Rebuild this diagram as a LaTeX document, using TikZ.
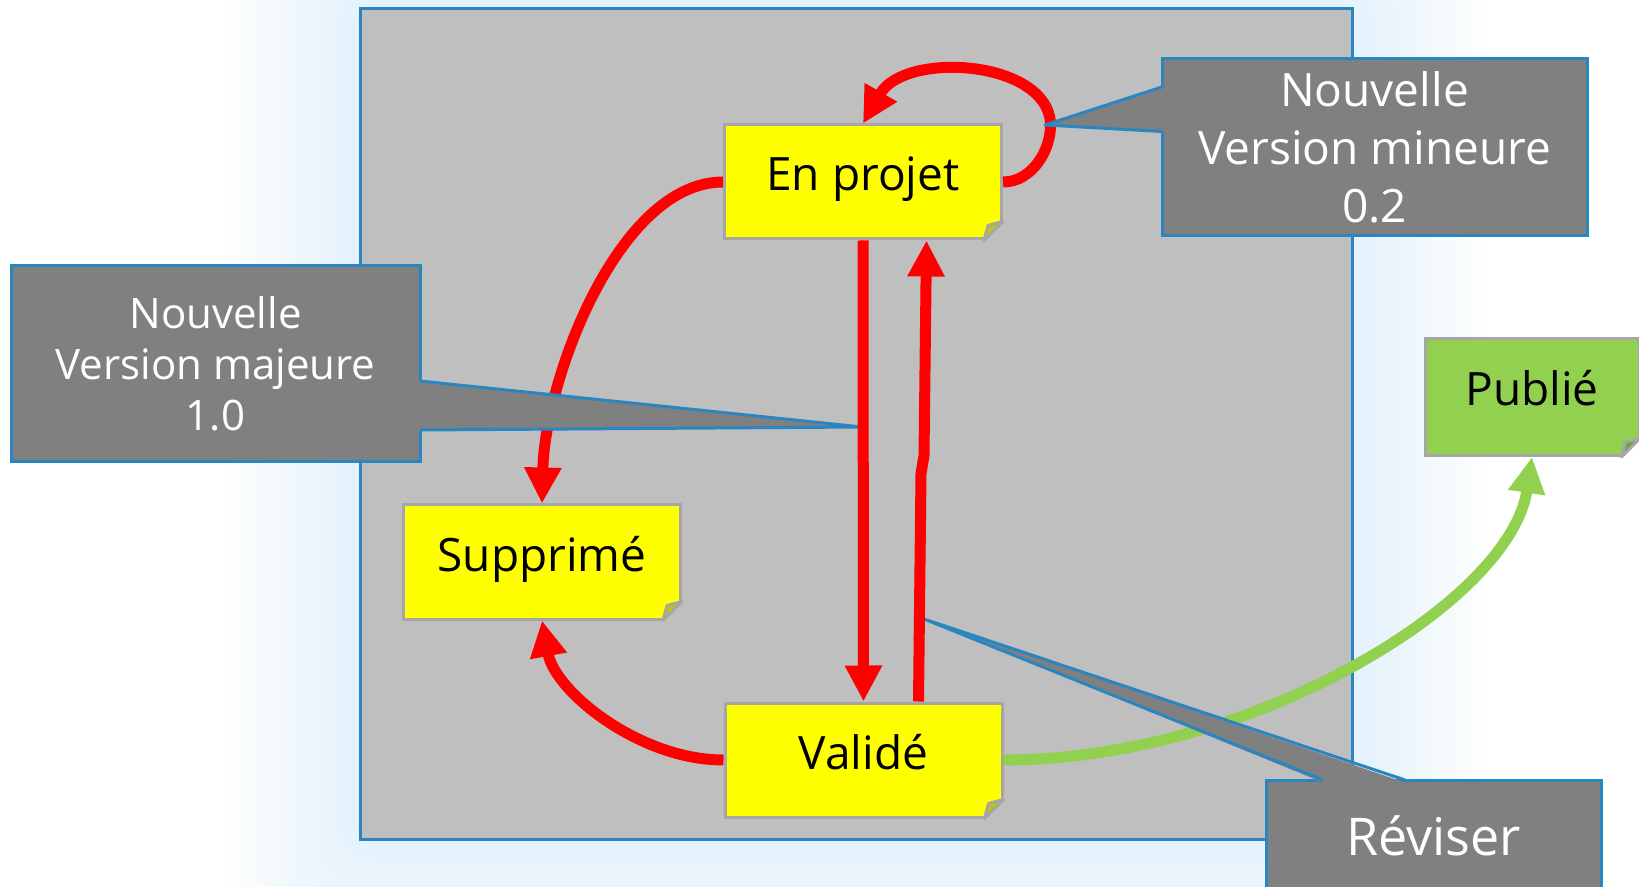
\documentclass[tikz,border=0pt]{standalone}
\usepackage{fontspec}
\setmainfont{Open Sans}
\usetikzlibrary{arrows.meta}

\definecolor{fondgris}{HTML}{BFBFBF}
\definecolor{bleubord}{HTML}{2A86C0}
\definecolor{grisbulle}{HTML}{808080}
\definecolor{bordnote}{HTML}{A6A6A6}
\definecolor{jaunenote}{HTML}{FFFF00}
\definecolor{jaunepli}{HTML}{C4C400}
\definecolor{vert}{HTML}{92D050}
\definecolor{vertpli}{HTML}{6FA63A}
\definecolor{rouge}{HTML}{FF0000}
\definecolor{brume}{HTML}{CFE6FC}

% coin replie d'une note : #1 noeud, #2 fond, #3 rabat
\newcommand{\pli}[3]{%
  \fill[#2] ([shift={(1pt,-1pt)}]#1.south east) -- ++(0,-23) -- ++(-23,23) -- cycle;
  \filldraw[draw=bordnote, line width=1.5pt, fill=#3, line join=round]
    ([yshift=9.5pt]#1.south east) -- ([xshift=-9.5pt]#1.south east)
    -- ([shift={(-7.5pt,7.5pt)}]#1.south east) -- cycle;
}

\begin{document}
\begin{tikzpicture}[
    x=0.5pt, y=-0.5pt,
    every node/.style={font=\fontsize{23pt}{27pt}\selectfont}
  ]

  \tikzset{
    etat/.style={draw=bordnote, line width=1.5pt, fill=jaunenote, minimum width=138.5pt, minimum height=57pt, inner sep=0pt, text height=14pt, text depth=5pt},
    bulle/.style={draw=bleubord, line width=1.5pt, fill=grisbulle, text=white, align=center, inner sep=0pt},
    fleche/.style={draw=rouge, line width=5.5pt, line join=round, -{Triangle[length=18pt,width=17.5pt]}},
    flechevert/.style={fleche, draw=vert},
    lien/.style={draw=bleubord, line width=1.5pt, line join=round}
  }

  % Fond
  \useasboundingbox (0,0) rectangle (1639,887);
  \fill[white] (0,0) rectangle (1639,887);
  \foreach \d in {0,10,...,130}
    \fill[brume, opacity=.045, rounded corners=20pt] (360-\d,9-\d) rectangle (1352+\d,839+\d);
  \filldraw[fill=fondgris, draw=bleubord, line width=1.5pt] (360,9) rectangle (1352,839);

  % Etats
  \node[etat] (enprojet) at (863,182) {En projet};
  \node[etat] (supprime) at (542,562) {Supprimé};
  \node[etat] (valide) at (863.5,760) {Validé};
  \node[etat, fill=vert, minimum width=107pt, minimum height=58.5pt] (publie) at (1532,397) {Publié};
  \pli{enprojet}{fondgris}{jaunepli}
  \pli{supprime}{fondgris}{jaunepli}
  \pli{valide}{fondgris}{jaunepli}
  \pli{publie}{white}{vertpli}

  % Transitions
  \draw[fleche] (enprojet.west) .. controls +(-104,0) and +(3,-125) .. (supprime.north);
  \draw[fleche] (valide.west) .. controls +(-84,0) and +(13,71) .. (supprime.south);
  \draw[fleche] (enprojet.east) .. controls +(29,0) and +(1,27) .. ([xshift=23.75pt,yshift=29.5pt]enprojet.east)
    .. controls +(-4,-63) and +(42,-73) .. (enprojet.north);
  \draw[flechevert] (valide.east) .. controls +(248,0) and +(-22,145) .. (publie.south);

  % Bulles
  \coordinate (pointemaj) at (862,427);
  \coordinate (pointemin) at (1045,125);
  \coordinate (pointerev) at (924,619);

  \node[bulle, minimum width=204.5pt, minimum height=98pt, font=\fontsize{21pt}{25.5pt}\selectfont] (majeure) at (215.5,364) {Nouvelle\\Version majeure\\1.0};
  \fill[grisbulle] ([shift={(-2pt,-8.5pt)}]majeure.east) -- (pointemaj) -- ([shift={(-2pt,-33pt)}]majeure.east) -- cycle;
  \draw[lien] ([shift={(-0.75pt,-8.5pt)}]majeure.east) -- (pointemaj) -- ([shift={(-0.75pt,-33pt)}]majeure.east);

  \node[bulle, minimum width=212.5pt, minimum height=88.75pt, font=\fontsize{23pt}{29pt}\selectfont] (mineure) at (1374.5,147) {Nouvelle\\Version mineure\\0.2};
  \fill[grisbulle] ([shift={(2pt,30pt)}]mineure.west) -- (pointemin) -- ([shift={(2pt,7.75pt)}]mineure.west) -- cycle;
  \draw[lien] ([shift={(0.75pt,30pt)}]mineure.west) -- (pointemin) -- ([shift={(0.75pt,7.75pt)}]mineure.west);

  \node[bulle, minimum width=167.5pt, minimum height=75pt, font=\fontsize{26pt}{30pt}\selectfont, text height=10pt, text depth=10pt] (reviser) at (1433.5,855) {Réviser};
  \fill[grisbulle] ([shift={(-55.25pt,-2pt)}]reviser.north) -- (pointerev) -- ([shift={(-14.25pt,-2pt)}]reviser.north) -- cycle;
  \draw[lien] ([shift={(-55.25pt,-0.75pt)}]reviser.north) -- (pointerev) -- ([shift={(-14.25pt,-0.75pt)}]reviser.north);

  % Aller-retour
  \draw[fleche] (enprojet.south) -- (valide.north);
  \draw[fleche] ([xshift=27.5pt]valide.north) -- ++(2.5,-228) -- ++(3,-18) -- ([xshift=31.75pt]enprojet.south);

\end{tikzpicture}
\end{document}
